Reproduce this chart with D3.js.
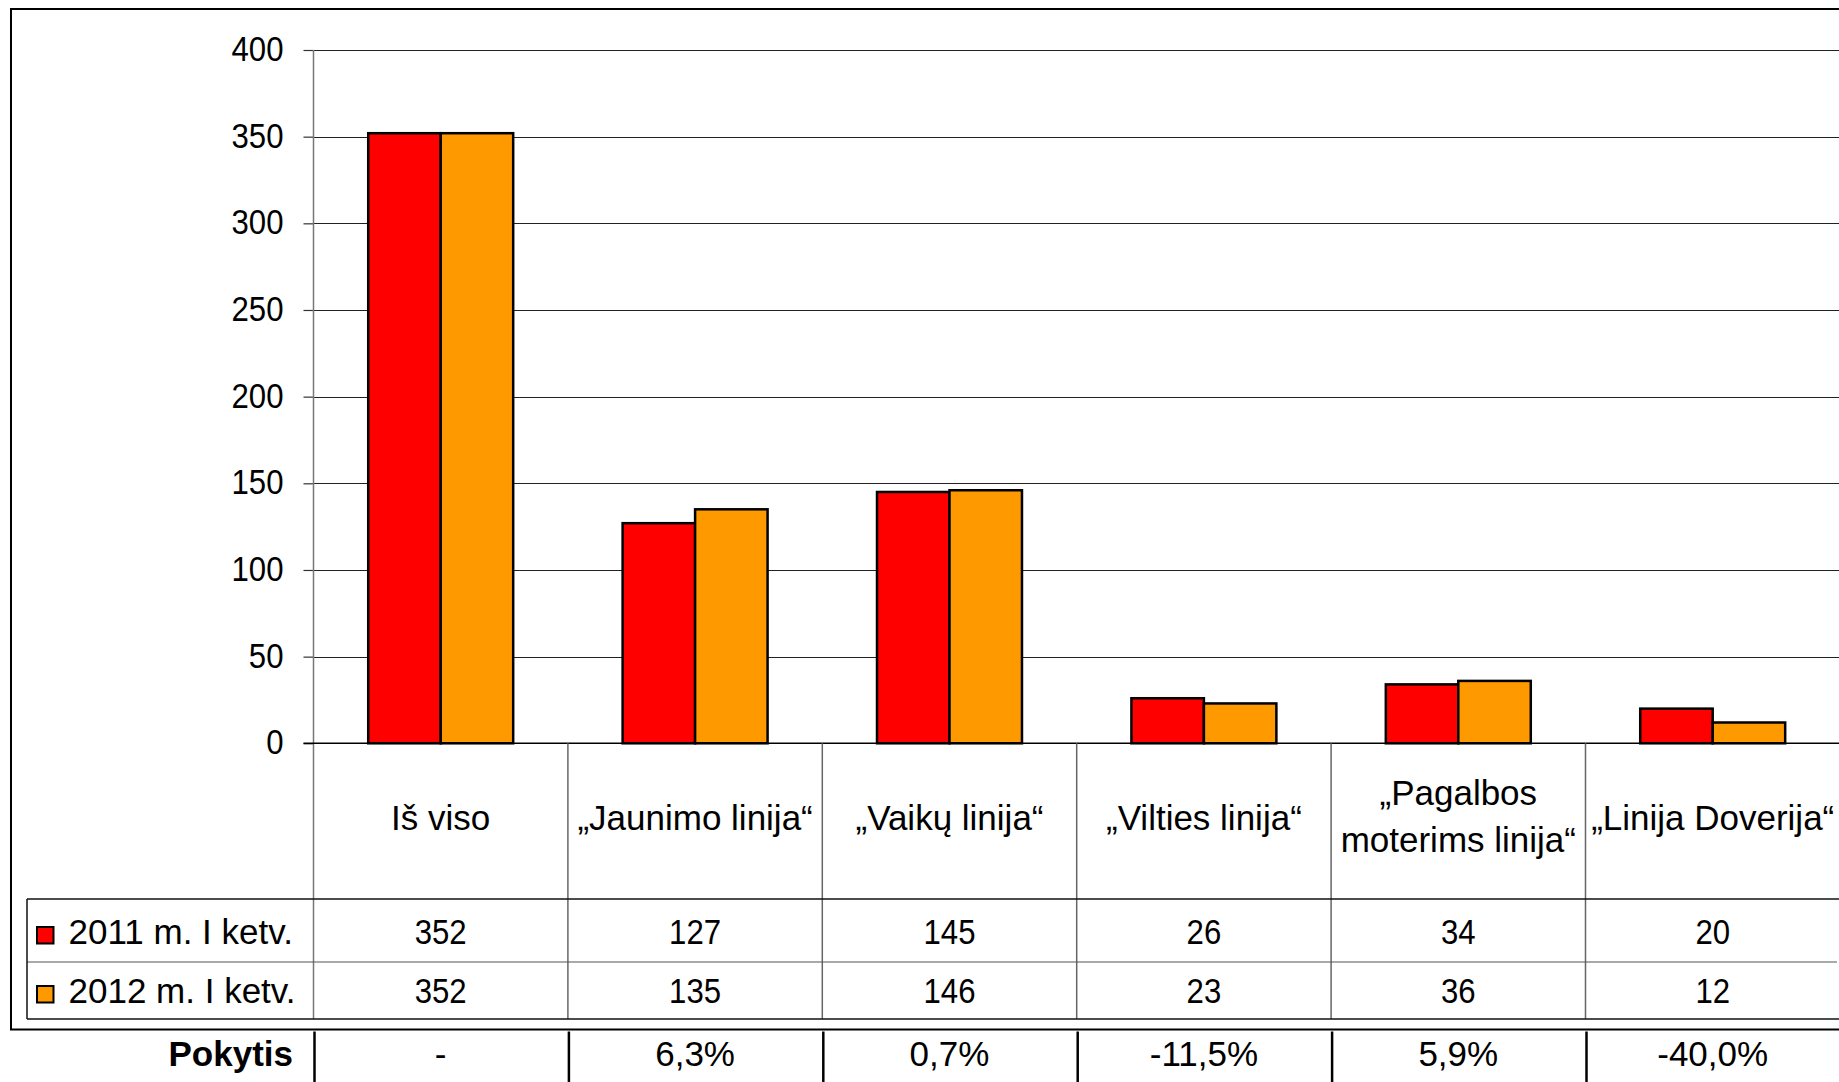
<!DOCTYPE html>
<html>
<head>
<meta charset="utf-8">
<script src="https://cdn.jsdelivr.net/npm/d3@7"></script>
<style>
  html, body { margin: 0; padding: 0; background: #fff; overflow: hidden; }
  svg { display: block; font-family: "Liberation Sans", Arial, sans-serif; }
</style>
</head>
<body>
<svg id="chart" width="1839" height="1082"></svg>
<script>
// ---------- DATA ----------
const categories = ["Iš viso", "„Jaunimo linija“", "„Vaikų linija“", "„Vilties linija“", "„Pagalbos moterims linija“", "„Linija Doverija“"];
const categoryLines = [["Iš viso"], ["„Jaunimo linija“"], ["„Vaikų linija“"], ["„Vilties linija“"], ["„Pagalbos", "moterims linija“"], ["„Linija Doverija“"]];
const seriesNames = ["2011 m. I ketv.", "2012 m. I ketv."];
const values2011 = [352, 127, 145, 26, 34, 20];
const values2012 = [352, 135, 146, 23, 36, 12];
const changeLabel = "Pokytis";
const changes = ["-", "6,3%", "0,7%", "-11,5%", "5,9%", "-40,0%"];
const yTicks = [0, 50, 100, 150, 200, 250, 300, 350, 400];
const seriesColors = ["#ff0000", "#ff9900"];

const seriesValues = [values2011, values2012];

// ---------- LAYOUT ----------
const svg = d3.select("#chart");
const plotLeft = 313.5, plotTop = 50, plotBottom = 743.3;
const catWidth = 254.4;
const plotRight = plotLeft + catWidth * categories.length;
const labelRowBottom = 899, row1Bottom = 962, row2Bottom = 1019;
const frameBottom = 1029.5;
const legendLeft = 27;
const FS = 35;
const NUM_SX = 0.89;

const x0 = d3.scaleBand().domain(categories).range([plotLeft, plotRight]).paddingInner(0).paddingOuter(0);
const x1 = d3.scaleBand().domain(seriesNames).range([0, x0.bandwidth()]).paddingInner(0).paddingOuter(0.755);
const y = d3.scaleLinear().domain([0, 400]).range([plotBottom, plotTop]);

// Outer frame
svg.append("rect")
  .attr("x", 11).attr("y", 9)
  .attr("width", 1900).attr("height", frameBottom - 9)
  .attr("fill", "none").attr("stroke", "#000").attr("stroke-width", 2);

// Gridlines
svg.append("g").selectAll("line").data(yTicks.filter(d => d > 0)).join("line")
  .attr("x1", plotLeft).attr("x2", 1839)
  .attr("y1", d => Math.round(y(d)) + 0.5).attr("y2", d => Math.round(y(d)) + 0.5)
  .attr("stroke", "#222").attr("stroke-width", 1.2);

// Y axis
const tickPad = 20;
const yAxis = d3.axisLeft(y).tickValues(yTicks).tickSize(10).tickPadding(tickPad).tickFormat(d3.format("d"));
const gy = svg.append("g").attr("transform", `translate(${plotLeft},0)`).call(yAxis);
gy.select(".domain").remove();
gy.selectAll(".tick line").attr("stroke", "#333").attr("stroke-width", 1.2);
gy.selectAll(".tick text")
  .attr("font-size", FS).attr("fill", "#000").attr("font-family", "Liberation Sans, Arial, sans-serif")
  .attr("x", -(10 + tickPad) / NUM_SX)
  .attr("dy", null).attr("y", 10.5)
  .attr("transform", `scale(${NUM_SX},1)`);

// Vertical axis line (extends through table)
svg.append("line")
  .attr("x1", plotLeft).attr("x2", plotLeft).attr("y1", plotTop).attr("y2", row2Bottom)
  .attr("stroke", "#777").attr("stroke-width", 1.5);

// Bars
const groups = svg.append("g").selectAll("g").data(categories).join("g")
  .attr("transform", d => `translate(${x0(d)},0)`);
groups.selectAll("rect")
  .data((d, i) => seriesNames.map((s, j) => ({ s, j, v: seriesValues[j][i] })))
  .join("rect")
  .attr("x", d => x1(d.s))
  .attr("width", x1.bandwidth())
  .attr("y", d => y(d.v))
  .attr("height", d => y(0) - y(d.v))
  .attr("fill", d => seriesColors[d.j])
  .attr("stroke", "#000").attr("stroke-width", 2.5);

// Zero line
svg.append("line")
  .attr("x1", plotLeft - 10).attr("x2", 1839).attr("y1", plotBottom).attr("y2", plotBottom)
  .attr("stroke", "#000").attr("stroke-width", 1.5);

// Table: category separators
svg.append("g").selectAll("line").data(categories.slice(1)).join("line")
  .attr("x1", d => x0(d)).attr("x2", d => x0(d))
  .attr("y1", plotBottom).attr("y2", row2Bottom)
  .attr("stroke", "#666").attr("stroke-width", 1.5);

// Table horizontal lines
svg.append("line").attr("x1", legendLeft).attr("x2", 1839).attr("y1", labelRowBottom).attr("y2", labelRowBottom)
  .attr("stroke", "#111").attr("stroke-width", 1.5);
svg.append("line").attr("x1", legendLeft).attr("x2", 1837).attr("y1", row1Bottom).attr("y2", row1Bottom)
  .attr("stroke", "#555").attr("stroke-width", 1.2);
svg.append("line").attr("x1", legendLeft).attr("x2", 1839).attr("y1", row2Bottom).attr("y2", row2Bottom)
  .attr("stroke", "#111").attr("stroke-width", 1.5);
svg.append("line").attr("x1", legendLeft).attr("x2", legendLeft).attr("y1", labelRowBottom).attr("y2", row2Bottom)
  .attr("stroke", "#111").attr("stroke-width", 1.5);

// Category labels
const catG = svg.append("g");
categories.forEach((c, i) => {
  const lines = categoryLines[i];
  const cx = x0(c) + x0.bandwidth() / 2;
  const baseY = lines.length === 1 ? [830] : [805, 851.5];
  lines.forEach((ln, k) => {
    catG.append("text").attr("x", cx).attr("y", baseY[k])
      .attr("text-anchor", "middle").attr("font-size", FS).attr("fill", "#000")
      .text(ln);
  });
});

// Legend + data rows
const rowBaselines = [944, 1003];
const rowSwatchY = [927, 986];
seriesNames.forEach((s, j) => {
  svg.append("rect").attr("x", 37).attr("y", rowSwatchY[j]).attr("width", 16.5).attr("height", 16.5)
    .attr("fill", seriesColors[j]).attr("stroke", "#000").attr("stroke-width", 2);
  svg.append("text").attr("x", 68.5).attr("y", rowBaselines[j])
    .attr("font-size", FS).attr("fill", "#000").text(s);
  svg.append("g").selectAll("text").data(seriesValues[j]).join("text")
    .attr("transform", (d, i) => `translate(${x0(categories[i]) + x0.bandwidth() / 2},${rowBaselines[j]}) scale(${NUM_SX},1)`)
    .attr("text-anchor", "middle").attr("font-size", FS).attr("fill", "#000")
    .text(d => d);
});

// Pokytis row
svg.append("text").attr("x", 293).attr("y", 1066)
  .attr("text-anchor", "end").attr("font-size", FS).attr("font-weight", "bold").attr("fill", "#000")
  .text(changeLabel);
svg.append("g").selectAll("line").data(categories).join("line")
  .attr("x1", d => x0(d) + 1).attr("x2", d => x0(d) + 1)
  .attr("y1", frameBottom + 2).attr("y2", 1082)
  .attr("stroke", "#000").attr("stroke-width", 2.5);
svg.append("g").selectAll("text").data(changes).join("text")
  .attr("x", (d, i) => x0(categories[i]) + x0.bandwidth() / 2)
  .attr("y", 1066)
  .attr("text-anchor", "middle").attr("font-size", FS).attr("fill", "#000")
  .text(d => d);
</script>
</body>
</html>
